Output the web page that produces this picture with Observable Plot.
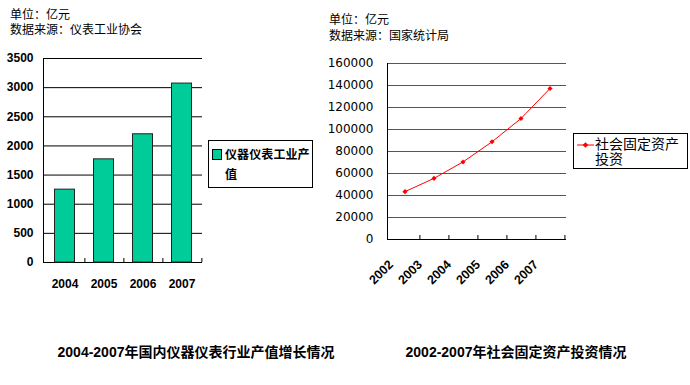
<!DOCTYPE html>
<html><head><meta charset="utf-8">
<script src="https://cdn.jsdelivr.net/npm/d3@7"></script>
<script src="https://cdn.jsdelivr.net/npm/@observablehq/plot@0.6"></script>
<style>
body{margin:0;background:#fff;width:690px;height:385px;position:relative;overflow:hidden;font-family:"Liberation Sans","Noto Sans CJK SC",sans-serif;color:#000}
.abs{position:absolute}
.note{font-size:12px;line-height:13px;height:13px;white-space:nowrap;font-family:"Liberation Sans","Noto Sans CJK SC",sans-serif}
.cap{font-size:14px;line-height:16px;font-weight:bold;white-space:nowrap;transform:translateX(-50%);font-family:"Liberation Sans","Noto Sans CJK SC",sans-serif}
.legend{border:1px solid #000;box-sizing:border-box;background:#fff;overflow:hidden}
</style></head>
<body>
<script>
// Chart A: instrument industry output (亿元)
const yearsA = ["2004","2005","2006","2007"];
const outputA = [1250, 1770, 2200, 3070];
const ticksA = [0,500,1000,1500,2000,2500,3000,3500];
const seriesA = "仪器仪表工业产值";
// Chart B: fixed asset investment (亿元)
const yearsB = ["2002","2003","2004","2005","2006","2007"];
const investB = [43500, 55600, 70500, 88800, 110000, 137300];
const ticksB = [0,20000,40000,60000,80000,100000,120000,140000,160000];
const seriesB = "社会固定资产投资";
const notesA = ["单位：亿元","数据来源：仪表工业协会"];
const notesB = ["单位：亿元","数据来源：国家统计局"];
const captionA = "2004-2007年国内仪器仪表行业产值增长情况";
const captionB = "2002-2007年社会固定资产投资情况";

const body = document.body;
function place(el, l, t){ el.classList.add("abs"); el.style.left=l+"px"; el.style.top=t+"px"; body.appendChild(el); return el; }
function div(cls, html){ const d=document.createElement("div"); d.className=cls; d.innerHTML=html; return d; }

// notes
place(div("note", notesA[0]), 10, 9);
place(div("note", notesA[1]), 10, 24);
place(div("note", notesB[0]), 329, 14);
place(div("note", notesB[1]), 329, 30);

// Chart A
const wA=210, hA=250, mlA=43, mrA=8, mtA=8, mbA=38;
const stepA=(wA-mlA-mrA)/yearsA.length;
const dataA = yearsA.map((y,i)=>({year:y, value:outputA[i]}));
const chartA = Plot.plot({
  width:wA, height:hA, marginLeft:mlA, marginRight:mrA, marginTop:mtA, marginBottom:mbA,
  style:{fontFamily:"Liberation Sans, sans-serif", fontSize:"12px", fontWeight:"bold", color:"#000", background:"transparent"},
  x:{type:"band", domain:yearsA, padding:0},
  y:{domain:[0,3500]},
  marks:[
    Plot.ruleY(ticksA, {stroke:"#000", strokeWidth:1}),
    Plot.barY(dataA, {x:"year", y:"value", fill:"#00CC99", stroke:"#222", strokeWidth:1, insetLeft:9.5, insetRight:9.5}),
    Plot.frame({anchor:"left", stroke:"#000"}),
    Plot.axisY({ticks:ticksA, tickSize:0, tickPadding:10, label:null, fontWeight:"bold", tickFormat:d=>String(d)}),
    Plot.axisX({tickSize:0, tickPadding:17, label:null, fontWeight:"bold"}),
    Plot.axisX({tickSize:4, text:null, dx:stepA/2, dy:-4, label:null, stroke:"#000"})
  ]
});
place(chartA, 0, 50);

// Legend A
const legA = div("legend", `<div style="display:flex;align-items:flex-start;padding:5px 0 0 3px"><span style="display:inline-block;width:8px;height:9px;background:#00CC99;border:1px solid #000;margin-top:3px;margin-right:3px;flex:none"></span><span style="width:88px;font-size:12px;font-weight:bold;line-height:20px;letter-spacing:0.1px;font-family:'Noto Sans CJK SC',sans-serif;margin-top:-2px">${seriesA}</span></div>`);
legA.style.width="105px"; legA.style.height="48px";
place(legA, 208, 140);

// Chart B
const wB=250, hB=250, mlB=67, mrB=4, mtB=13, mbB=61;
const stepB=(wB-mlB-mrB)/yearsB.length;
const dataB = yearsB.map((y,i)=>({year:y, value:investB[i]}));
const chartB = Plot.plot({
  width:wB, height:hB, marginLeft:mlB, marginRight:mrB, marginTop:mtB, marginBottom:mbB,
  style:{fontFamily:"DejaVu Sans, sans-serif", fontSize:"12px", color:"#000", background:"transparent"},
  x:{type:"band", domain:yearsB, padding:0},
  y:{domain:[0,160000]},
  marks:[
    Plot.ruleY(ticksB.slice(1), {stroke:"#555", strokeWidth:1}),
    Plot.ruleY([0], {stroke:"#000", strokeWidth:1}),
    Plot.frame({anchor:"left", stroke:"#000"}),
    Plot.line(dataB, {x:"year", y:"value", stroke:"#FF0000", strokeWidth:1}),
    Plot.dot(dataB, {x:"year", y:"value", fill:"#FF0000", r:2.3, symbol:"diamond2"}),
    Plot.axisY({ticks:ticksB, tickSize:0, tickPadding:14, label:null, tickFormat:d=>String(d)}),
    Plot.axisX({tickSize:0, tickRotate:-45, tickPadding:23, dx:-14, label:null, fontWeight:"bold", fontSize:12.5, fontFamily:"Liberation Sans, sans-serif"}),
    Plot.axisX({tickSize:4, text:null, dx:stepB/2, dy:-4, label:null, stroke:"#000"})
  ]
});
place(chartB, 320, 50);

// Legend B
const legB = div("legend", `<div style="display:flex;align-items:flex-start;padding:2px 0 0 3px"><svg width="17" height="12" style="flex:none;margin-top:3px;margin-right:1px"><line x1="0" y1="6" x2="17" y2="6" stroke="#FF0000" stroke-width="1"/><rect x="6.5" y="4" width="4" height="4" fill="#FF0000" transform="rotate(45 8.5 6)"/></svg><span style="width:92px;font-size:14px;line-height:15px;font-family:'Noto Sans CJK SC',sans-serif">${seriesB}</span></div>`);
legB.style.width="115px"; legB.style.height="36px";
place(legB, 573, 133);

// Captions
place(div("cap", captionA), 196, 344);
place(div("cap", captionB), 516, 344);
</script>
</body></html>
